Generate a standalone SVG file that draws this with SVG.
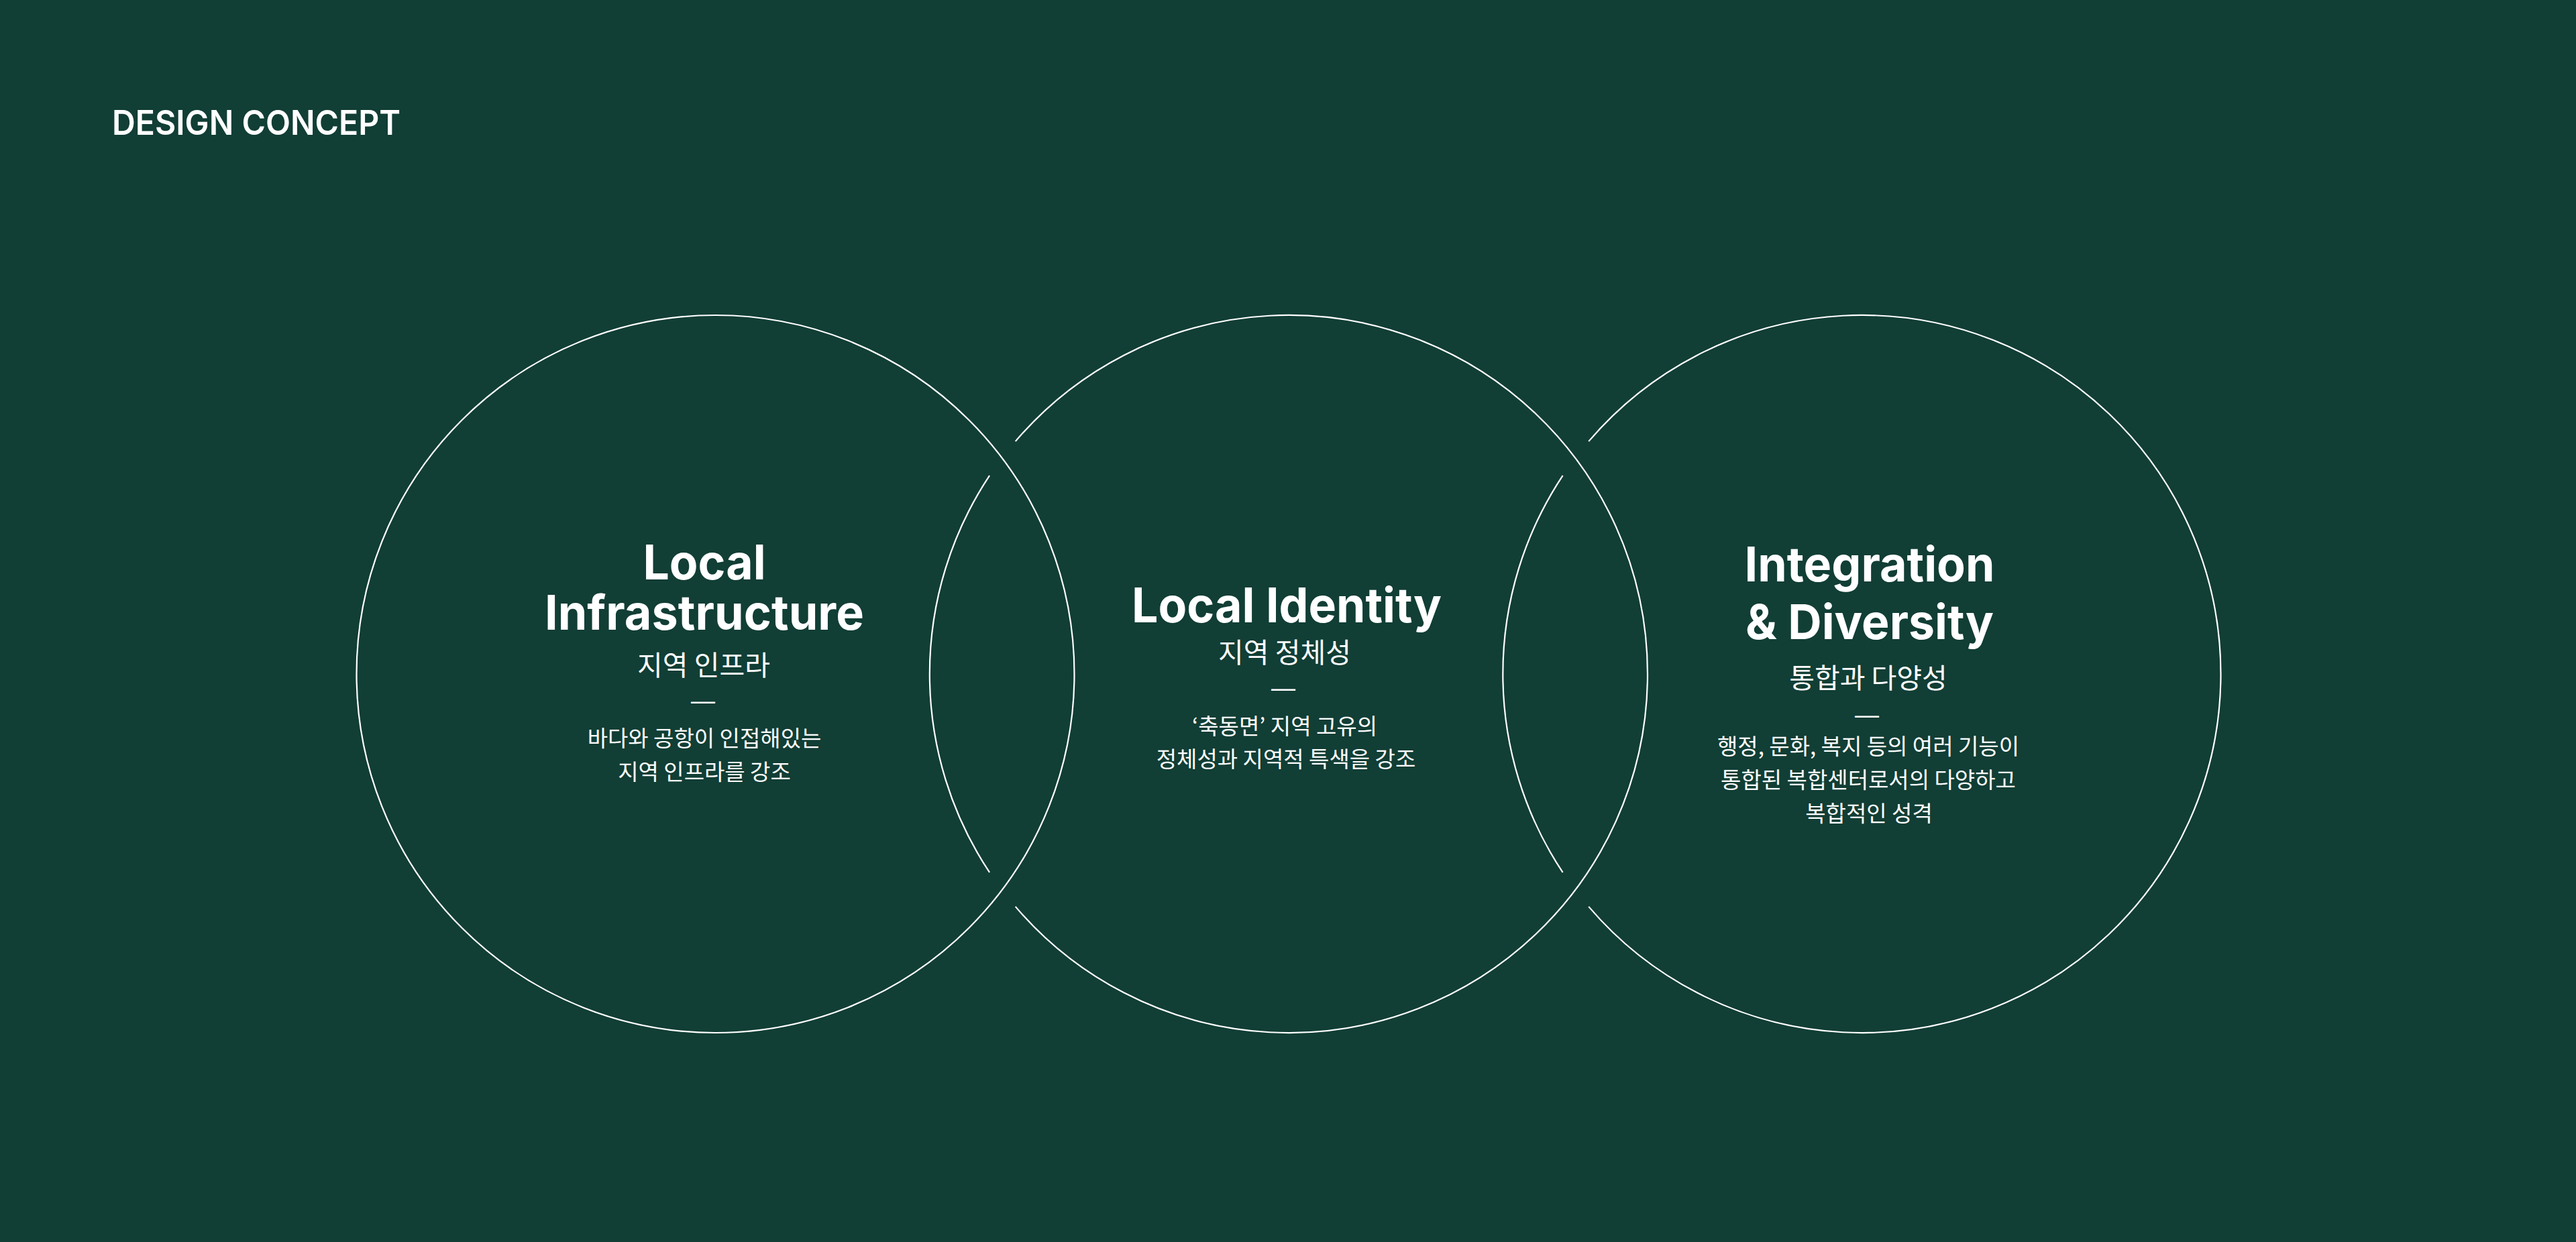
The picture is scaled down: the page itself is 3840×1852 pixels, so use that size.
<svg xmlns="http://www.w3.org/2000/svg" width="3840" height="1852" viewBox="0 0 3840 1852">
  <style>
    .ring { fill: none; stroke: #ffffff; stroke-width: 2.2; }
    .heading { font-family: "Inter", "Liberation Sans", sans-serif; font-weight: 600; fill: #ffffff; }
    .title { font-family: "Inter", "Liberation Sans", sans-serif; font-weight: 700; font-size: 72px; fill: #ffffff; text-anchor: middle; }
    .sub { font-family: "Noto Sans CJK KR", "Noto Sans", sans-serif; font-weight: 400; font-size: 41px; fill: #ffffff; text-anchor: middle; }
    .dash { font-family: "Liberation Sans", sans-serif; font-size: 36px; fill: #ffffff; text-anchor: middle; }
    .desc { font-family: "Noto Sans CJK KR", "Noto Sans", sans-serif; font-weight: 400; font-size: 33px; fill: #ffffff; text-anchor: middle; }
  </style>
  <rect x="0" y="0" width="3840" height="1852" fill="#113e35"/>

  <text class="heading" x="167" y="201" font-size="51" textLength="430" lengthAdjust="spacingAndGlyphs">DESIGN CONCEPT</text>

  <g id="connectors"></g>

  <g id="node-local-infrastructure">
    <circle class="ring" cx="1066.5" cy="1005" r="535"/>
    <text class="title" x="1050" y="864" textLength="183" lengthAdjust="spacingAndGlyphs">Local</text>
    <text class="title" x="1050" y="939" textLength="476" lengthAdjust="spacingAndGlyphs">Infrastructure</text>
    <text class="sub" x="1049" y="1007">지역 인프라</text>
    <text class="dash" x="1048" y="1057">—</text>
    <text class="desc" x="1050" y="1113">바다와 공항이 인접해있는</text>
    <text class="desc" x="1050" y="1163">지역 인프라를 강조</text>
  </g>

  <g id="node-local-identity">
    <path class="ring" d="M 1475.1 709.1 A 535 535 0 0 0 1475.1 1300.9"/>
    <path class="ring" d="M 1513.7 658.1 A 535 535 0 1 1 1513.7 1351.9"/>
    <text class="title" x="1918" y="928" textLength="462" lengthAdjust="spacingAndGlyphs">Local Identity</text>
    <text class="sub" x="1915" y="988">지역 정체성</text>
    <text class="dash" x="1913" y="1038">—</text>
    <text class="desc" x="1915" y="1095">‘축동면’ 지역 고유의</text>
    <text class="desc" x="1917" y="1144">정체성과 지역적 특색을 강조</text>
  </g>

  <g id="node-integration-diversity">
    <path class="ring" d="M 2329.6 709.1 A 535 535 0 0 0 2329.6 1300.9"/>
    <path class="ring" d="M 2368.2 658.1 A 535 535 0 1 1 2368.2 1351.9"/>
    <text class="title" x="2787" y="867" textLength="373" lengthAdjust="spacingAndGlyphs">Integration</text>
    <text class="title" x="2787" y="953" textLength="370" lengthAdjust="spacingAndGlyphs">&amp; Diversity</text>
    <text class="sub" x="2785" y="1026">통합과 다양성</text>
    <text class="dash" x="2783" y="1078">—</text>
    <text class="desc" x="2785" y="1125">행정, 문화, 복지 등의 여러 기능이</text>
    <text class="desc" x="2785" y="1175">통합된 복합센터로서의 다양하고</text>
    <text class="desc" x="2786" y="1225">복합적인 성격</text>
  </g>
</svg>
